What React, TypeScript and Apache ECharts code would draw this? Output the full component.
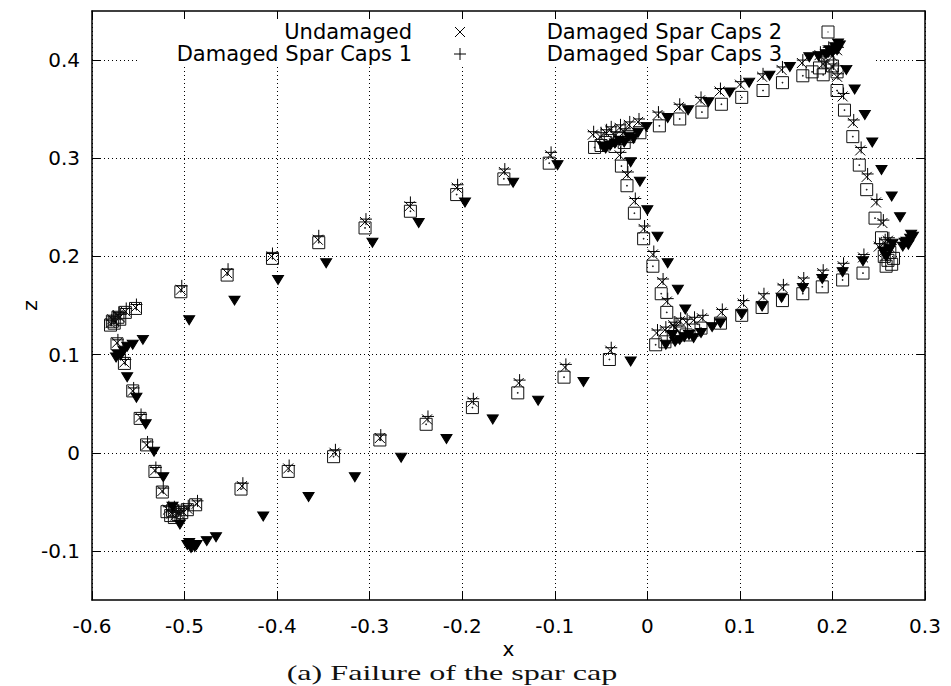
import React, { useEffect, useRef } from 'react';
import * as echarts from 'echarts';

const xTicks = { min: -0.6, max: 0.3, interval: 0.1 };
const zRange = { min: -0.15, max: 0.45 };
const zTickValues = [-0.1, 0, 0.1, 0.2, 0.3, 0.4];

const seriesNames = ['Undamaged', 'Damaged Spar Caps 1', 'Damaged Spar Caps 2', 'Damaged Spar Caps 3'];

const undamaged: number[][] = [
  [-0.504, 0.166], [-0.454, 0.183], [-0.406, 0.200], [-0.356, 0.217], [-0.305, 0.235], [-0.257, 0.251], [-0.206, 0.270], [-0.155, 0.286], [-0.105, 0.303],
  [-0.059, 0.324], [-0.051, 0.322], [-0.045, 0.326], [-0.040, 0.329], [-0.035, 0.323], [-0.030, 0.331], [-0.025, 0.327], [-0.020, 0.334], [-0.010, 0.337],
  [0.011, 0.344], [0.034, 0.352], [0.057, 0.359], [0.078, 0.368], [0.100, 0.375], [0.124, 0.383], [0.145, 0.390], [0.167, 0.397],
  [0.186, 0.405], [0.190, 0.396], [0.195, 0.410], [0.200, 0.404], [0.200, 0.393], [0.205, 0.410],
  [0.205, 0.383], [0.211, 0.363], [0.222, 0.336], [0.230, 0.308], [0.237, 0.281], [0.247, 0.255], [0.254, 0.234],
  [0.256, 0.214], [0.260, 0.216], [0.262, 0.209], [0.258, 0.201], [0.255, 0.205], [0.250, 0.210],
  [0.233, 0.199], [0.211, 0.190], [0.189, 0.183], [0.168, 0.175], [0.146, 0.168], [0.125, 0.159], [0.103, 0.152], [0.080, 0.143],
  [0.059, 0.137], [0.050, 0.135], [0.042, 0.133], [0.035, 0.134], [0.030, 0.127], [0.028, 0.130], [0.019, 0.125], [0.010, 0.122],
  [0.021, 0.154], [0.016, 0.174], [0.006, 0.202], [-0.004, 0.228], [-0.014, 0.256], [-0.022, 0.283], [-0.030, 0.303],
  [-0.040, 0.104], [-0.089, 0.087], [-0.139, 0.071], [-0.189, 0.052], [-0.238, 0.034], [-0.289, 0.015], [-0.338, 0.000], [-0.388, -0.016], [-0.438, -0.034],
  [-0.487, -0.052], [-0.497, -0.057], [-0.502, -0.060], [-0.506, -0.062], [-0.510, -0.064], [-0.512, -0.058], [-0.514, -0.062], [-0.518, -0.058],
  [-0.524, -0.039], [-0.532, -0.018], [-0.541, 0.008], [-0.548, 0.036], [-0.556, 0.063], [-0.565, 0.092], [-0.573, 0.112],
  [-0.580, 0.132], [-0.578, 0.136], [-0.576, 0.134], [-0.572, 0.140], [-0.570, 0.138], [-0.564, 0.144], [-0.553, 0.148],
];

const sparCaps1: number[][] = [
  [-0.503, 0.170], [-0.453, 0.187], [-0.405, 0.203], [-0.355, 0.221], [-0.304, 0.238], [-0.256, 0.255], [-0.205, 0.273], [-0.154, 0.289], [-0.104, 0.306],
  [-0.058, 0.327], [-0.050, 0.326], [-0.044, 0.329], [-0.039, 0.332], [-0.034, 0.327], [-0.029, 0.334], [-0.024, 0.330], [-0.019, 0.337], [-0.009, 0.340],
  [0.012, 0.347], [0.035, 0.355], [0.058, 0.362], [0.079, 0.371], [0.101, 0.378], [0.125, 0.386], [0.146, 0.393], [0.168, 0.400],
  [0.187, 0.408], [0.191, 0.399], [0.196, 0.413], [0.201, 0.407], [0.201, 0.396], [0.206, 0.413],
  [0.206, 0.386], [0.212, 0.366], [0.223, 0.339], [0.231, 0.311], [0.238, 0.284], [0.248, 0.258], [0.255, 0.237],
  [0.257, 0.217], [0.261, 0.219], [0.263, 0.212], [0.259, 0.204], [0.256, 0.208], [0.251, 0.213],
  [0.234, 0.202], [0.212, 0.193], [0.190, 0.186], [0.169, 0.178], [0.147, 0.171], [0.126, 0.162], [0.104, 0.155], [0.081, 0.146],
  [0.060, 0.140], [0.051, 0.138], [0.043, 0.136], [0.036, 0.137], [0.031, 0.130], [0.029, 0.133], [0.020, 0.128], [0.011, 0.125],
  [0.022, 0.157], [0.017, 0.177], [0.007, 0.205], [-0.003, 0.231], [-0.013, 0.259], [-0.021, 0.286], [-0.029, 0.306],
  [-0.039, 0.107], [-0.088, 0.090], [-0.138, 0.074], [-0.188, 0.055], [-0.237, 0.037], [-0.288, 0.018], [-0.337, 0.003], [-0.387, -0.013], [-0.437, -0.031],
  [-0.486, -0.049], [-0.496, -0.054], [-0.501, -0.057], [-0.505, -0.059], [-0.509, -0.061], [-0.511, -0.055], [-0.513, -0.059], [-0.517, -0.055],
  [-0.523, -0.036], [-0.531, -0.015], [-0.540, 0.011], [-0.547, 0.039], [-0.555, 0.066], [-0.564, 0.095], [-0.572, 0.115],
  [-0.579, 0.135], [-0.577, 0.139], [-0.575, 0.137], [-0.571, 0.143], [-0.569, 0.141], [-0.563, 0.147], [-0.552, 0.151],
];

const sparCaps2: number[][] = [
  [-0.504, 0.164], [-0.454, 0.181], [-0.405, 0.198], [-0.355, 0.214], [-0.305, 0.229], [-0.256, 0.246], [-0.206, 0.263], [-0.155, 0.279], [-0.106, 0.295],
  [-0.057, 0.311], [-0.050, 0.313], [-0.045, 0.316], [-0.040, 0.318], [-0.035, 0.312], [-0.030, 0.320], [-0.025, 0.316], [-0.020, 0.322], [-0.008, 0.326],
  [0.013, 0.333], [0.035, 0.340], [0.059, 0.347], [0.080, 0.355], [0.102, 0.362], [0.125, 0.369], [0.146, 0.377], [0.168, 0.384],
  [0.178, 0.388], [0.186, 0.392], [0.190, 0.385], [0.195, 0.398], [0.200, 0.394], [0.205, 0.388],
  [0.205, 0.369], [0.213, 0.349], [0.222, 0.322], [0.229, 0.293], [0.237, 0.268], [0.246, 0.239], [0.253, 0.219],
  [0.256, 0.200], [0.260, 0.196], [0.264, 0.192], [0.266, 0.198], [0.262, 0.204], [0.258, 0.190],
  [0.233, 0.183], [0.211, 0.176], [0.189, 0.169], [0.168, 0.162], [0.146, 0.155], [0.124, 0.148], [0.102, 0.140], [0.079, 0.132],
  [0.058, 0.127], [0.050, 0.125], [0.042, 0.120], [0.035, 0.122], [0.028, 0.118], [0.019, 0.113], [0.009, 0.110],
  [0.021, 0.143], [0.015, 0.162], [0.006, 0.190], [-0.004, 0.218], [-0.014, 0.244], [-0.022, 0.272], [-0.028, 0.292],
  [-0.041, 0.095], [-0.090, 0.077], [-0.140, 0.061], [-0.189, 0.046], [-0.239, 0.029], [-0.289, 0.013], [-0.339, -0.004], [-0.388, -0.019], [-0.439, -0.037],
  [-0.488, -0.053], [-0.497, -0.058], [-0.503, -0.061], [-0.507, -0.063], [-0.511, -0.066], [-0.513, -0.059], [-0.515, -0.064], [-0.519, -0.060],
  [-0.524, -0.040], [-0.532, -0.019], [-0.541, 0.008], [-0.548, 0.035], [-0.556, 0.063], [-0.565, 0.091], [-0.573, 0.111],
  [-0.580, 0.130], [-0.578, 0.134], [-0.576, 0.132], [-0.572, 0.138], [-0.570, 0.136], [-0.564, 0.143], [-0.553, 0.147],
];

const sparCaps3: number[][] = [
  [-0.495, 0.135], [-0.446, 0.155], [-0.399, 0.176], [-0.347, 0.193], [-0.297, 0.214], [-0.247, 0.234], [-0.197, 0.255], [-0.145, 0.275], [-0.097, 0.293],
  [-0.048, 0.312], [-0.045, 0.310], [-0.040, 0.313], [-0.035, 0.315], [-0.030, 0.318], [-0.025, 0.316], [-0.020, 0.322], [-0.015, 0.320], [-0.010, 0.326], [-0.001, 0.332],
  [0.022, 0.341], [0.044, 0.349], [0.066, 0.357], [0.089, 0.367], [0.110, 0.377], [0.132, 0.384], [0.154, 0.393], [0.175, 0.403],
  [0.185, 0.404], [0.193, 0.406], [0.197, 0.410], [0.200, 0.408], [0.203, 0.413], [0.205, 0.410], [0.208, 0.415], [0.206, 0.417],
  [0.215, 0.390], [0.224, 0.370], [0.235, 0.344], [0.243, 0.316], [0.253, 0.288], [0.264, 0.261], [0.273, 0.240],
  [0.276, 0.210], [0.278, 0.214], [0.280, 0.215], [0.282, 0.212], [0.284, 0.218], [0.287, 0.220], [0.285, 0.222],
  [0.258, 0.200], [0.262, 0.207], [0.265, 0.213], [0.255, 0.205],
  [0.233, 0.195], [0.211, 0.184], [0.189, 0.177], [0.168, 0.168], [0.145, 0.158], [0.124, 0.149], [0.102, 0.141], [0.079, 0.132],
  [0.070, 0.128], [0.058, 0.122], [0.050, 0.117], [0.045, 0.120], [0.040, 0.118], [0.035, 0.115], [0.030, 0.113], [0.027, 0.120], [0.020, 0.110],
  [0.041, 0.146], [0.033, 0.166], [0.022, 0.193], [0.011, 0.220], [0.000, 0.247], [-0.008, 0.276], [-0.018, 0.296],
  [-0.018, 0.093], [-0.069, 0.072], [-0.118, 0.053], [-0.167, 0.034], [-0.217, 0.014], [-0.266, -0.005], [-0.316, -0.025], [-0.366, -0.045], [-0.415, -0.065],
  [-0.466, -0.086], [-0.476, -0.090], [-0.487, -0.094], [-0.489, -0.096], [-0.493, -0.097], [-0.495, -0.092], [-0.497, -0.094],
  [-0.505, -0.073], [-0.513, -0.055], [-0.523, -0.025], [-0.533, 0.001], [-0.542, 0.029], [-0.552, 0.056], [-0.562, 0.077],
  [-0.569, 0.099], [-0.574, 0.097], [-0.572, 0.100], [-0.566, 0.104], [-0.562, 0.108], [-0.556, 0.110], [-0.545, 0.115],
];

const seriesData = [undamaged, sparCaps1, sparCaps2, sparCaps3];

const FONT = '"DejaVu Sans", "Liberation Sans", Arial, sans-serif';

const symbolDefs = [
  { symbol: 'path://M0,0L10,10M0,10L10,0', size: [10, 10], fill: 'rgba(0,0,0,0)', stroke: '#000' },
  { symbol: 'path://M6,0L6,12M0,6L12,6', size: [12, 12], fill: 'rgba(0,0,0,0)', stroke: '#000' },
  { symbol: 'path://M0,0L12,0L12,12L0,12ZM5.6,5.6L6.4,5.6L6.4,6.4L5.6,6.4Z', size: [12, 12], fill: 'rgba(0,0,0,0)', stroke: '#111' },
  { symbol: 'path://M0,0L10,0L5,9Z', size: [11, 9], fill: '#000', stroke: '#000' },
];

function legendGraphics() {
  const textRight = [412, 782];
  const symX = [460, 828];
  const rowY = [32, 54];
  const pos = [
    [0, 0],
    [0, 1],
    [1, 0],
    [1, 1],
  ];
  const els: any[] = [
    { type: 'rect', z: 1, shape: { x: 140, y: 12, width: 736, height: 55 }, style: { fill: '#fff' }, silent: true },
  ];
  seriesNames.forEach((name, i) => {
    const [col, row] = pos[i];
    const cx = symX[col];
    const cy = rowY[row];
    els.push({
      type: 'text', z: 3, x: textRight[col], y: cy,
      style: { text: name, fill: '#000', font: `21px ${FONT}`, align: 'right', verticalAlign: 'middle' },
    });
    const ls = { stroke: '#000', lineWidth: 1 };
    if (i === 0) {
      els.push({ type: 'line', z: 3, shape: { x1: cx - 5, y1: cy - 5, x2: cx + 5, y2: cy + 5 }, style: ls });
      els.push({ type: 'line', z: 3, shape: { x1: cx - 5, y1: cy + 5, x2: cx + 5, y2: cy - 5 }, style: ls });
    } else if (i === 1) {
      els.push({ type: 'line', z: 3, shape: { x1: cx, y1: cy - 6, x2: cx, y2: cy + 6 }, style: ls });
      els.push({ type: 'line', z: 3, shape: { x1: cx - 6, y1: cy, x2: cx + 6, y2: cy }, style: ls });
    } else if (i === 2) {
      els.push({ type: 'rect', z: 3, shape: { x: cx - 6, y: cy - 6, width: 12, height: 12 }, style: { fill: 'none', stroke: '#111', lineWidth: 1 } });
      els.push({ type: 'rect', z: 3, shape: { x: cx - 0.5, y: cy - 0.5, width: 1, height: 1 }, style: { fill: '#000' } });
    } else {
      els.push({ type: 'polygon', z: 3, shape: { points: [[cx - 5.5, cy - 4.5], [cx + 5.5, cy - 4.5], [cx, cy + 4.5]] }, style: { fill: '#000' } });
    }
  });
  els.push({
    type: 'text', z: 3, x: 452, y: 672, scaleX: 1.46, scaleY: 1,
    style: { text: '(a) Failure of the spar cap', fill: '#111', font: '22px "Liberation Serif", "DejaVu Serif", serif', align: 'center', verticalAlign: 'middle' },
  });
  return els;
}

export default function App() {
  const ref = useRef<HTMLDivElement>(null);
  useEffect(() => {
    document.body.style.margin = '0';
    const chart = echarts.init(ref.current!, null, { renderer: 'svg' });
    const splitStyle = { show: true, lineStyle: { color: '#000', width: 1, type: [1, 3] as any } };
    const tick = { show: true, inside: true, length: 8, lineStyle: { color: '#000', width: 1 } };
    const zTick = { ...tick, customValues: zTickValues };
    const line = { show: true, onZero: false, lineStyle: { color: '#000', width: 1.5 } };
    const option: any = {
      animation: false,
      backgroundColor: '#fff',
      grid: { left: 92, right: 26, top: 11, bottom: 86 },
      xAxis: [
        {
          type: 'value', position: 'bottom', ...xTicks, z: 0,
          name: 'x', nameLocation: 'middle', nameGap: 39, nameMoveOverlap: false,
          nameTextStyle: { fontFamily: FONT, fontSize: 20, color: '#000' },
          axisLine: line, axisTick: tick, splitLine: splitStyle,
          axisLabel: { fontFamily: FONT, fontSize: 20, color: '#000', margin: 16 },
        },
        {
          type: 'value', position: 'top', ...xTicks, z: 4,
          axisLine: line, axisTick: tick, splitLine: { show: false }, axisLabel: { show: false },
        },
      ],
      yAxis: [
        {
          type: 'value', position: 'left', ...zRange, z: 0,
          name: 'z', nameLocation: 'middle', nameGap: 52, nameMoveOverlap: false,
          nameTextStyle: { fontFamily: FONT, fontSize: 20, color: '#000' },
          axisLine: line, axisTick: zTick, splitLine: splitStyle,
          axisLabel: { fontFamily: FONT, fontSize: 20, color: '#000', margin: 12, customValues: zTickValues },
        },
        {
          type: 'value', position: 'right', ...zRange, z: 4,
          axisLine: line, axisTick: zTick, splitLine: { show: false }, axisLabel: { show: false },
        },
      ],
      graphic: legendGraphics(),
      series: seriesData.map((d, i) => ({
        type: 'scatter',
        name: seriesNames[i],
        xAxisIndex: 0,
        yAxisIndex: 0,
        data: d,
        symbol: symbolDefs[i].symbol,
        symbolSize: symbolDefs[i].size,
        z: 2 + i * 0.01,
        itemStyle: { color: symbolDefs[i].fill, borderColor: symbolDefs[i].stroke, borderWidth: 1, opacity: 1 },
        emphasis: { disabled: true },
      })),
    };
    chart.setOption(option);
    return () => chart.dispose();
  }, []);
  return <div ref={ref} style={{ width: 951, height: 686 }} />;
}
